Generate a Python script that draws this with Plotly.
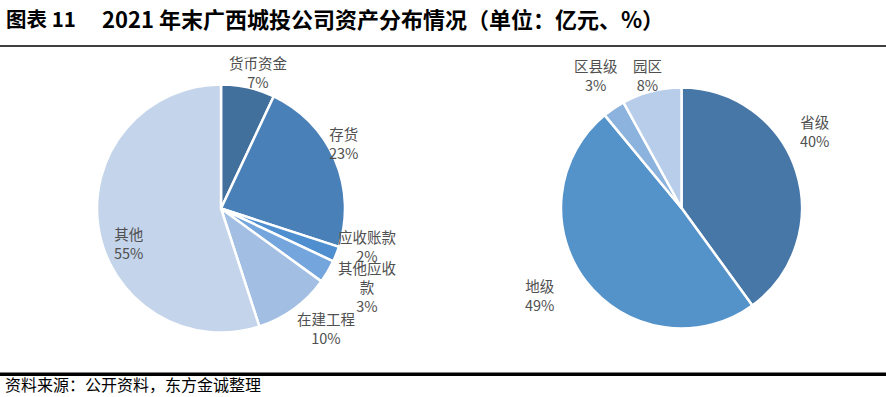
import math
import plotly.graph_objects as go

left_labels = ["货币资金", "存货", "应收账款", "其他应收款", "在建工程", "其他"]
left_values = [7, 23, 2, 3, 10, 55]
left_colors = ["#41709c", "#4a80b8", "#4f8fd0", "#74a5dc", "#a2bfe3", "#c4d4ea"]

right_labels = ["省级", "地级", "区县级", "园区"]
right_values = [40, 49, 3, 8]
right_colors = ["#4677a7", "#5492ca", "#8cb2de", "#b8cde9"]

title_no = "图表 11"
title_text = "2021 年末广西城投公司资产分布情况（单位：亿元、%）"
source_text = "资料来源：公开资料，东方金诚整理"

FONT = "Noto Sans CJK SC"
GRAY = "#505050"
W, H = 886, 397

# label placement (layout only): angle nudge from slice mid-angle (deg), distance from centre (px)
left_label_place = [(2.8, 141.6), (-4.9, 139.1), (-7.1, 151.3), (-2.7, 165.7), (-5.4, 159.4), (-11.5, 98.7)]
right_label_place = [(-12.1, 153.7), (6.3, 166.4), (1.4, 157.7), (0.0, 136.8)]

# pie geometry in pixels: centre x, centre y, radius
left_geo = (221, 208.5, 124)
right_geo = (681.5, 208, 120.5)


def wrap(s, n=4):
    return "<br>".join(s[i:i + n] for i in range(0, len(s), n))


def domain(geo):
    cx, cy, r = geo
    return dict(x=[(cx - r) / W, (cx + r) / W], y=[1 - (cy + r) / H, 1 - (cy - r) / H])


def label_annotations(labels, values, place, geo):
    cx, cy, r = geo
    total = sum(values)
    out = []
    cum = 0
    for lab, v, (nudge, dist) in zip(labels, values, place):
        mid = (cum + v / 2) / total * 360 + nudge
        cum += v
        a = math.radians(mid)
        px = cx + dist * math.sin(a)
        py = cy - dist * math.cos(a)
        out.append(dict(
            text=f"{wrap(lab)}<br>{v}%", x=px / W, y=1 - py / H, xref="paper", yref="paper",
            xanchor="center", yanchor="middle", showarrow=False, align="center",
            borderpad=0,
            font=dict(family=FONT, size=14.5, color=GRAY),
        ))
    return out


fig = go.Figure()
for labels, values, colors, geo in [
    (left_labels, left_values, left_colors, left_geo),
    (right_labels, right_values, right_colors, right_geo),
]:
    fig.add_trace(go.Pie(
        labels=labels, values=values, textinfo="none", sort=False,
        direction="clockwise", rotation=0,
        marker=dict(colors=colors, line=dict(color="white", width=2.5)),
        domain=domain(geo), showlegend=False, hoverinfo="label+percent",
    ))

annotations = [
    dict(text="<b>" + title_no + "</b>", xref="paper", yref="paper",
         x=5 / W, y=1 - 18 / H, xanchor="left", yanchor="middle", borderpad=0,
         showarrow=False, font=dict(family=FONT, size=20.5, color="black")),
    dict(text="<b>" + title_text + "</b>", xref="paper", yref="paper",
         x=101 / W, y=1 - 18 / H, xanchor="left", yanchor="middle", borderpad=0,
         showarrow=False, font=dict(family=FONT, size=22, color="black")),
    dict(text=source_text, xref="paper", yref="paper",
         x=4 / W, y=0, xanchor="left", yanchor="bottom", borderpad=0,
         showarrow=False, font=dict(family=FONT, size=16, color="black")),
]
annotations += label_annotations(left_labels, left_values, left_label_place, left_geo)
annotations += label_annotations(right_labels, right_values, right_label_place, right_geo)

fig.update_layout(
    width=W, height=H,
    margin=dict(l=0, r=0, t=0, b=0),
    paper_bgcolor="white", plot_bgcolor="white",
    font=dict(family=FONT, color="black"),
    shapes=[
        dict(type="line", xref="paper", yref="paper", x0=0, x1=1,
             y0=1 - 46 / H, y1=1 - 46 / H, line=dict(color="black", width=1.5)),
        dict(type="line", xref="paper", yref="paper", x0=0, x1=1,
             y0=1 - 374.3 / H, y1=1 - 374.3 / H, line=dict(color="black", width=3.5)),
    ],
    annotations=annotations,
)

fig.write_html("out.html", config={"displayModeBar": False},
               post_script="document.body.style.margin='0';")
